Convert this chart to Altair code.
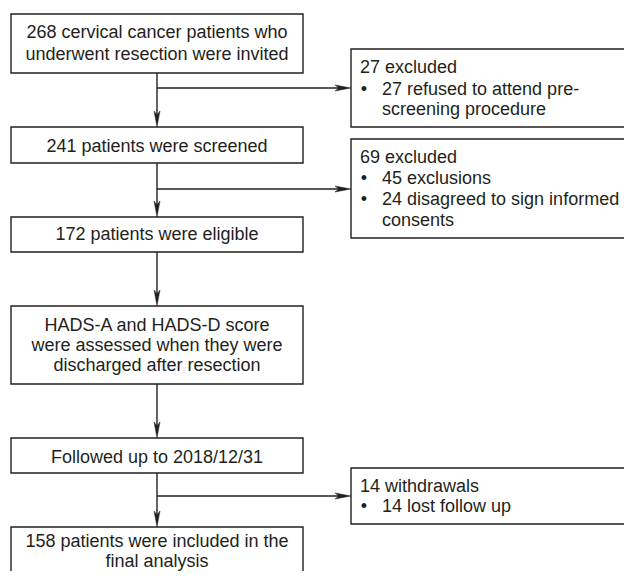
import altair as alt
import pandas as pd

# ---------------- content ----------------
main_lines = [
    ["268 cervical cancer patients who", "underwent resection were invited"],
    ["241 patients were screened"],
    ["172 patients were eligible"],
    ["HADS-A and HADS-D score", "were assessed when they were", "discharged after resection"],
    ["Followed up to 2018/12/31"],
    ["158 patients were included in the", "final analysis"],
]
side_heads = ["27 excluded", "69 excluded", "14 withdrawals"]
side_items = [
    [["27 refused to attend pre-", "screening procedure"]],
    [["45 exclusions"], ["24 disagreed to sign informed", "consents"]],
    [["14 lost follow up"]],
]

# ---------------- layout (page pixels; page margin is 8px) ----------------
PAGE_W, PAGE_H, MARGIN = 632, 579, 8
MAIN_X = (11, 303)
MAIN_CX = 157
MAIN_Y = [(14, 73), (127, 163), (217, 252), (306, 384), (438, 473), (527, 600)]
MAIN_BASE = [[38, 60], [152], [240], [331, 351, 371], [463], [547, 567]]
SIDE_X = (351, 680)
SIDE_Y = [(49, 127), (139, 238), (468, 524)]
SIDE_BASE = [[73, 95, 115], [163, 184, 205, 226], [492, 512]]
BRANCH_Y = [88, 189, 496]
HEAD_X, BULLET_X, ITEM_X = 360, 364, 382

FONT = "Liberation Sans"
FS = 18
INK = "#231f20"
ARROW = 16

boxes = []
texts = []
for (y0, y1), lines, bases in zip(MAIN_Y, main_lines, MAIN_BASE):
    boxes.append(dict(x=MAIN_X[0], x2=MAIN_X[1], y=y0, y2=y1))
    for t, b in zip(lines, bases):
        texts.append(dict(x=MAIN_CX, y=b, text=t, al="center"))
for (y0, y1), head, items, bases in zip(SIDE_Y, side_heads, side_items, SIDE_BASE):
    boxes.append(dict(x=SIDE_X[0], x2=SIDE_X[1], y=y0, y2=y1))
    texts.append(dict(x=HEAD_X, y=bases[0], text=head, al="left"))
    k = 1
    for item in items:
        texts.append(dict(x=BULLET_X, y=bases[k], text="•", al="center"))
        for t in item:
            texts.append(dict(x=ITEM_X, y=bases[k], text=t, al="left"))
            k += 1

edges = []
down_heads = []
for (a0, a1), (b0, b1) in zip(MAIN_Y[:-1], MAIN_Y[1:]):
    edges.append(dict(x=MAIN_CX, x2=MAIN_CX, y=a1, y2=b0 - 6))
    down_heads.append(dict(x=MAIN_CX, y=b0 - ARROW / 2))
right_heads = []
for by in BRANCH_Y:
    edges.append(dict(x=MAIN_CX, x2=SIDE_X[0] - 6, y=by, y2=by))
    right_heads.append(dict(x=SIDE_X[0] - ARROW / 2, y=by))

boxes_df = pd.DataFrame(boxes)
texts_df = pd.DataFrame(texts)
edges_df = pd.DataFrame(edges)
down_df = pd.DataFrame(down_heads)
right_df = pd.DataFrame(right_heads)

W = PAGE_W - 2 * MARGIN
H = PAGE_H - 2 * MARGIN
xs = alt.Scale(domain=[MARGIN, MARGIN + W], nice=False, zero=False)
ys = alt.Scale(domain=[MARGIN, MARGIN + H], nice=False, zero=False, reverse=True)

X = alt.X("x:Q", scale=xs, axis=None)
Y = alt.Y("y:Q", scale=ys, axis=None)

box_layer = alt.Chart(boxes_df).mark_rect(
    fill="white", stroke=INK, strokeWidth=1.4, clip=True
).encode(x=X, x2="x2:Q", y=Y, y2="y2:Q")

edge_layer = alt.Chart(edges_df).mark_rule(color=INK, strokeWidth=1.4).encode(
    x=X, x2="x2:Q", y=Y, y2="y2:Q"
)

down_layer = alt.Chart(down_df).mark_point(
    shape="M 0 1 L -0.37 -1 L 0 -0.5 L 0.37 -1 Z", size=ARROW * ARROW,
    filled=True, fill=INK, stroke=INK, strokeWidth=0.5, opacity=1,
).encode(x=X, y=Y)

right_layer = alt.Chart(right_df).mark_point(
    shape="M 1 0 L -1 -0.37 L -0.5 0 L -1 0.37 Z", size=ARROW * ARROW,
    filled=True, fill=INK, stroke=INK, strokeWidth=0.5, opacity=1,
).encode(x=X, y=Y)

text_left = alt.Chart(texts_df[texts_df["al"] == "left"]).mark_text(
    font=FONT, fontSize=FS, color=INK, align="left", baseline="alphabetic"
).encode(x=X, y=Y, text="text:N")
text_center = alt.Chart(texts_df[texts_df["al"] == "center"]).mark_text(
    font=FONT, fontSize=FS, color=INK, align="center", baseline="alphabetic"
).encode(x=X, y=Y, text="text:N")

chart = alt.layer(
    box_layer, edge_layer, down_layer, right_layer, text_left, text_center
).properties(
    width=W, height=H, padding=0, autosize=alt.AutoSizeParams(type="none"),
    background="white",
).configure_view(stroke=None)

chart.save("out.html", embed_options={"renderer": "svg", "actions": False})
